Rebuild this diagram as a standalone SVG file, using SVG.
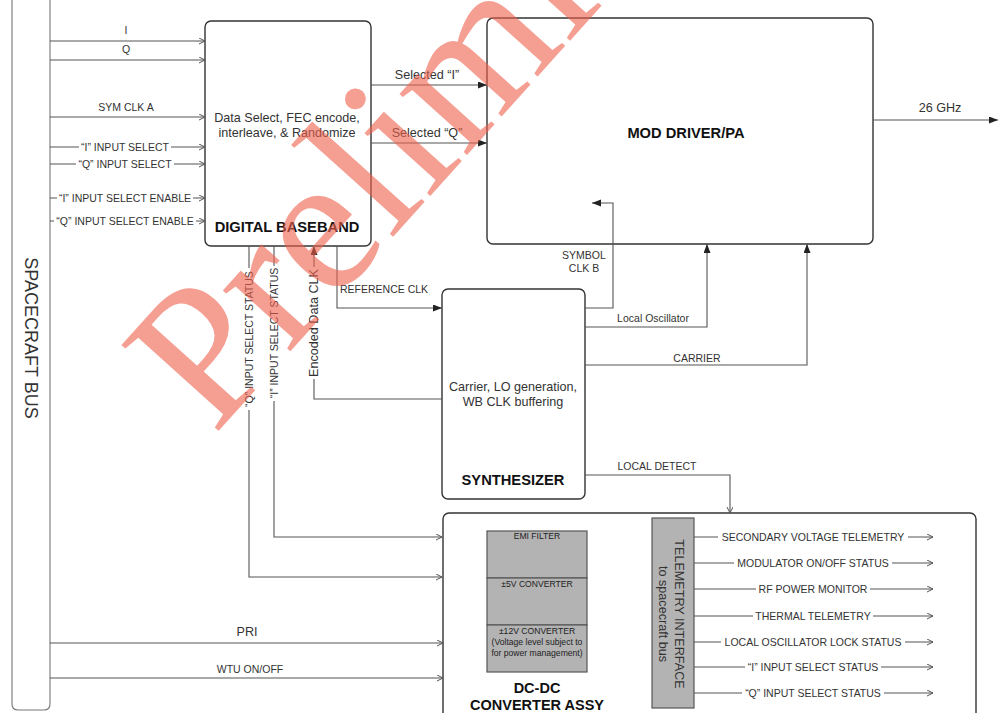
<svg xmlns="http://www.w3.org/2000/svg" width="1000" height="713" viewBox="0 0 1000 713">
<style>
.ln{fill:none;stroke:#555;stroke-width:1.1}
.box{fill:none;stroke:#333;stroke-width:1.4}
.gray{fill:#b3b3b3;stroke:#555;stroke-width:1.2}
text{font-family:"Liberation Sans",Arial,sans-serif;fill:#333}
.lbl{font-size:10.5px}
.mid{text-anchor:middle}
.ttl{font-weight:bold;font-size:14.7px;fill:#111}
.txt{font-size:12.6px}
.sm{font-size:8.6px;fill:#222}
.wm{font-family:"Liberation Serif","Times New Roman",serif;font-size:198px;fill:#f0604d;opacity:0.6}
</style>
<defs>
<marker id="op" markerWidth="8" markerHeight="8" refX="6" refY="3" orient="auto" markerUnits="userSpaceOnUse"><path d="M0,0 L6,3 L0,6" fill="none" stroke="#555" stroke-width="1"/></marker>
<marker id="fa" markerWidth="10" markerHeight="8" refX="9" refY="3.5" orient="auto" markerUnits="userSpaceOnUse"><path d="M0,0 L9,3.5 L0,7 z" fill="#222"/></marker>
</defs>
<rect width="1000" height="713" fill="#fff"/>

<g id="spacecraft-bus">
<path class="ln" d="M12,-5 V704 Q12,710 18,710 H44 Q50,710 50,704 V-5" style="stroke:#777"/>
<text transform="translate(31,338) rotate(90)" class="mid" dominant-baseline="central" style="font-size:18px">SPACECRAFT BUS</text>
</g>

<g id="digital-baseband">
<rect class="box" x="205" y="21" width="166" height="225" rx="6"/>
<text class="txt mid" x="287" y="122">Data Select, FEC encode,</text>
<text class="txt mid" x="287" y="137">interleave, &amp; Randomize</text>
<text class="ttl mid" x="287" y="232">DIGITAL BASEBAND</text>
</g>

<g id="mod-driver-pa">
<rect class="box" x="487" y="18" width="386" height="226" rx="6"/>
<text class="ttl mid" x="686" y="138">MOD DRIVER/PA</text>
</g>

<g id="synthesizer">
<rect class="box" x="442" y="289" width="143" height="210" rx="6"/>
<text class="txt mid" x="513" y="391">Carrier, LO generation,</text>
<text class="txt mid" x="513" y="406">WB CLK buffering</text>
<text class="ttl mid" x="513" y="485">SYNTHESIZER</text>
</g>

<g id="dc-dc-converter">
<rect class="box" x="443" y="513" width="533" height="230" rx="6"/>
<rect class="gray" x="487" y="531" width="100" height="47"/>
<rect class="gray" x="487" y="578" width="100" height="47"/>
<rect class="gray" x="487" y="625" width="100" height="47"/>
<text class="sm mid" x="537" y="539">EMI FILTER</text>
<text class="sm mid" x="537" y="587">±5V CONVERTER</text>
<text class="sm mid" x="537" y="634">±12V CONVERTER</text>
<text class="sm mid" x="537" y="645">(Voltage level subject to</text>
<text class="sm mid" x="537" y="656">for power management)</text>
<text class="ttl mid" x="537" y="693" style="font-size:14.5px">DC-DC</text>
<text class="ttl mid" x="537" y="710" style="font-size:14.5px">CONVERTER ASSY</text>
</g>

<g id="telemetry-interface">
<rect class="gray" x="652" y="518" width="42" height="190"/>
<text class="txt mid" transform="translate(679,614) rotate(90)" dominant-baseline="central">TELEMETRY INTERFACE</text>
<text class="txt mid" transform="translate(663,614) rotate(90)" dominant-baseline="central">to spacecraft bus</text>
</g>

<g id="connectors">
<path class="ln" d="M50,41 H205" marker-end="url(#op)"/>
<text class="lbl mid" x="126" y="34">I</text>
<path class="ln" d="M50,60 H205" marker-end="url(#op)"/>
<text class="lbl mid" x="126" y="53">Q</text>
<path class="ln" d="M50,117 H205" marker-end="url(#op)"/>
<text class="lbl mid" x="126" y="111">SYM CLK A</text>
<path class="ln" d="M50,147 H79 M171,147 H205" marker-end="url(#op)"/>
<text class="lbl mid" x="125" y="151">“I” INPUT SELECT</text>
<path class="ln" d="M50,164 H76 M174,164 H205" marker-end="url(#op)"/>
<text class="lbl mid" x="125" y="168">“Q” INPUT SELECT</text>
<path class="ln" d="M50,198 H57 M193,198 H205" marker-end="url(#op)"/>
<text class="lbl mid" x="125" y="202">“I” INPUT SELECT ENABLE</text>
<path class="ln" d="M50,221 H54 M196,221 H205" marker-end="url(#op)"/>
<text class="lbl mid" x="125" y="225">“Q” INPUT SELECT ENABLE</text>

<path class="ln" d="M371,85 H487" marker-end="url(#fa)"/>
<text class="txt mid" x="427" y="79">Selected “I”</text>
<path class="ln" d="M371,143 H487" marker-end="url(#fa)"/>
<text class="txt mid" x="427" y="137">Selected “Q”</text>

<path class="ln" d="M873,120 H998" marker-end="url(#fa)"/>
<text class="txt mid" x="940" y="112">26 GHz</text>

<path class="ln" d="M585,308 H613 V203 H592" marker-end="url(#fa)"/>
<text class="lbl mid" x="584" y="259">SYMBOL</text>
<text class="lbl mid" x="584" y="272">CLK B</text>
<path class="ln" d="M585,327 H707 V244" marker-end="url(#fa)"/>
<text class="lbl mid" x="653" y="322">Local Oscillator</text>
<path class="ln" d="M585,365 H807 V244" marker-end="url(#fa)"/>
<text class="lbl mid" x="697" y="362">CARRIER</text>
<path class="ln" d="M585,475 H730 V513" marker-end="url(#op)"/>
<text class="lbl mid" x="657" y="470">LOCAL DETECT</text>

<path class="ln" d="M337,246 V308 H442" marker-end="url(#fa)"/>
<text class="lbl" x="340" y="293">REFERENCE CLK</text>

<path class="ln" d="M442,399 H314 V379 M314,267 V246" marker-end="url(#fa)"/>
<text class="txt mid" transform="translate(314,323) rotate(-90)" dominant-baseline="central">Encoded Data CLK</text>

<path class="ln" d="M249,246 V268 M249,410 V577 H442" marker-end="url(#op)"/>
<text class="lbl mid" transform="translate(249,339) rotate(-90)" dominant-baseline="central">“Q” INPUT SELECT STATUS</text>
<path class="ln" d="M274,246 V266 M274,401 V537 H442" marker-end="url(#op)"/>
<text class="lbl mid" transform="translate(274,333) rotate(-90)" dominant-baseline="central">“I” INPUT SELECT STATUS</text>

<path class="ln" d="M50,643 H443" marker-end="url(#op)"/>
<text class="txt mid" x="247" y="636">PRI</text>
<path class="ln" d="M50,678 H443" marker-end="url(#op)"/>
<text class="lbl mid" x="250" y="673">WTU ON/OFF</text>

<path class="ln" d="M694,537 H718 M908,537 H933" marker-end="url(#op)"/>
<text class="lbl mid" x="813" y="541">SECONDARY VOLTAGE TELEMETRY</text>
<path class="ln" d="M694,563 H734 M892,563 H933" marker-end="url(#op)"/>
<text class="lbl mid" x="813" y="567">MODULATOR ON/OFF STATUS</text>
<path class="ln" d="M694,589 H756 M870,589 H933" marker-end="url(#op)"/>
<text class="lbl mid" x="813" y="593">RF POWER MONITOR</text>
<path class="ln" d="M694,616 H753 M873,616 H933" marker-end="url(#op)"/>
<text class="lbl mid" x="813" y="620">THERMAL TELEMETRY</text>
<path class="ln" d="M694,642 H721 M905,642 H933" marker-end="url(#op)"/>
<text class="lbl mid" x="813" y="646">LOCAL OSCILLATOR LOCK STATUS</text>
<path class="ln" d="M694,667 H745 M881,667 H933" marker-end="url(#op)"/>
<text class="lbl mid" x="813" y="671">“I” INPUT SELECT STATUS</text>
<path class="ln" d="M694,693 H742 M884,693 H933" marker-end="url(#op)"/>
<text class="lbl mid" x="813" y="697">“Q” INPUT SELECT STATUS</text>
</g>

<g id="watermark">
<text class="wm" transform="translate(214,436) rotate(-48)">Preliminary</text>
</g>
</svg>
